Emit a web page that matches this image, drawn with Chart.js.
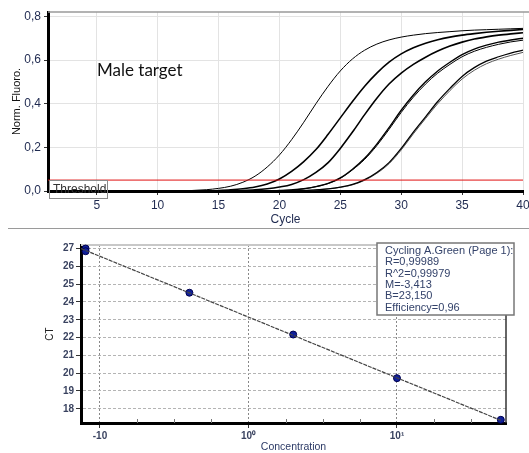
<!DOCTYPE html>
<html>
<head>
<meta charset="utf-8">
<script src="https://cdn.jsdelivr.net/npm/chart.js@4.4.1/dist/chart.umd.min.js"></script>
<style>
  body { margin: 0; background: #fff; }
  #wrap { position: relative; width: 529px; height: 453px; overflow: hidden; }
  #amp { position: absolute; left: 0; top: 0; }
  #sep { position: absolute; left: 8px; top: 228px; width: 521px; height: 1px; background: #9a9a9a; }
  #std { position: absolute; left: 0; top: 230px; }
</style>
</head>
<body>
<div id="wrap">
  <canvas id="amp" width="529" height="228"></canvas>
  <div id="sep"></div>
  <canvas id="std" width="529" height="223"></canvas>
</div>
<script>
// amplification plot
const cycles = [1, 2, 3, 4, 5, 6, 7, 8, 9, 10, 11, 12, 13, 14, 15, 16, 17, 18, 19, 20,
  21, 22, 23, 24, 25, 26, 27, 28, 29, 30, 31, 32, 33, 34, 35, 36, 37, 38, 39, 40];
const cycleTicks = [5, 10, 15, 20, 25, 30, 35, 40];
const fluoroTicks = [0, 0.2, 0.4, 0.6, 0.8];
const fluoroLabels = ['0,0', '0,2', '0,4', '0,6', '0,8'];
const thresholdValue = 0.05;

const dil1 = [0, 0, 0, 0, 0, 0, 0, 0, 0, 0, 0, 0,
  0.003, 0.006, 0.012, 0.022, 0.04, 0.068, 0.11, 0.165, 0.235, 0.315, 0.40, 0.48, 0.55, 0.605,
  0.645, 0.673, 0.692, 0.705, 0.714, 0.721, 0.726, 0.73, 0.734, 0.737, 0.739, 0.741, 0.743, 0.745];
const dil2 = [0, 0, 0, 0, 0, 0, 0, 0, 0, 0, 0, 0, 0, 0,
  0.002, 0.005, 0.01, 0.018, 0.032, 0.055, 0.09, 0.135, 0.19, 0.26, 0.335, 0.41, 0.48,
  0.54, 0.59, 0.628, 0.656, 0.677, 0.693, 0.705, 0.714, 0.721, 0.727, 0.732, 0.736, 0.74];
const dil3 = [0, 0, 0, 0, 0, 0, 0, 0, 0, 0, 0, 0, 0, 0, 0, 0,
  0.002, 0.005, 0.01, 0.018, 0.03, 0.052, 0.085, 0.13, 0.195, 0.27, 0.35, 0.425,
  0.49, 0.54, 0.58, 0.613, 0.641, 0.664, 0.682, 0.696, 0.706, 0.714, 0.72, 0.725];
const dil4 = [0, 0, 0, 0, 0, 0, 0, 0, 0, 0, 0, 0, 0, 0, 0, 0, 0, 0, 0,
  0.002, 0.005, 0.01, 0.02, 0.035, 0.06, 0.10, 0.15, 0.215, 0.29, 0.37,
  0.44, 0.50, 0.55, 0.59, 0.625, 0.65, 0.668, 0.682, 0.692, 0.70];
const dil4b = [0, 0, 0, 0, 0, 0, 0, 0, 0, 0, 0, 0, 0, 0, 0, 0, 0, 0, 0,
  0.002, 0.005, 0.01, 0.02, 0.034, 0.058, 0.097, 0.145, 0.208, 0.282, 0.36,
  0.43, 0.49, 0.54, 0.58, 0.615, 0.64, 0.658, 0.672, 0.683, 0.691];
const dil5 = [0, 0, 0, 0, 0, 0, 0, 0, 0, 0, 0, 0, 0, 0, 0, 0, 0, 0, 0, 0, 0,
  0.002, 0.005, 0.01, 0.018, 0.03, 0.052, 0.085, 0.13, 0.195, 0.27,
  0.34, 0.41, 0.47, 0.525, 0.565, 0.595, 0.615, 0.632, 0.645];
const dil5b = [0, 0, 0, 0, 0, 0, 0, 0, 0, 0, 0, 0, 0, 0, 0, 0, 0, 0, 0, 0, 0,
  0.002, 0.005, 0.01, 0.017, 0.028, 0.049, 0.081, 0.125, 0.188, 0.262,
  0.332, 0.40, 0.46, 0.513, 0.553, 0.583, 0.604, 0.621, 0.635];

// standard curve
const concentrations = [0.08, 0.08, 0.4, 2, 10, 50];
const ctValues = [27.0, 26.85, 24.52, 22.17, 19.72, 17.38];
const fitConc = [0.0745, 50];
const fitCt = [27.0, 17.35];
const concTicks = [0.1, 1, 10];
const concMinorTicks = [0.178, 0.316, 0.562, 1.78, 3.16, 5.62, 17.8, 31.6];
const concLabels = ['-10', '10\u2070', '10\u00b9'];
const ctTicks = [18, 19, 20, 21, 22, 23, 24, 25, 26, 27];
const statLines = ['Cycling A.Green (Page 1):', 'R=0,99989', 'R^2=0,99979',
  'M=-3,413', 'B=23,150', 'Efficiency=0,96'];

const navy = '#1f2a50';
const sans = 'Liberation Sans, Arial, sans-serif';

function curve(values, width, color) {
  return {
    data: cycles.map((c, i) => ({ x: c, y: values[i] })),
    borderColor: color || '#000',
    borderWidth: width,
    pointRadius: 0,
    cubicInterpolationMode: 'monotone',
    fill: false
  };
}

const ampDecor = {
  id: 'ampDecor',
  beforeDatasetsDraw(chart) {
    const { ctx, chartArea } = chart;
    ctx.save();
    ctx.strokeStyle = '#9a9a9a';
    ctx.lineWidth = 1.5;
    ctx.beginPath();
    ctx.moveTo(chartArea.left, chartArea.top);
    ctx.lineTo(chart.width, chartArea.top);
    ctx.stroke();
    ctx.restore();
  },
  afterDraw(chart) {
    const { ctx } = chart;
    ctx.save();
    ctx.fillStyle = '#111';
    ctx.font = '17px Lato, sans-serif';
    ctx.textBaseline = 'alphabetic';
    ctx.fillText('Male target', 97, 76);
    ctx.strokeStyle = '#8a8a8a';
    ctx.lineWidth = 1;
    ctx.strokeRect(49.5, 180.5, 58, 18);
    ctx.fillStyle = '#333';
    ctx.font = '12px ' + sans;
    ctx.textBaseline = 'middle';
    ctx.fillText('Threshold', 53, 189.5);
    ctx.restore();
  }
};

new Chart(document.getElementById('amp'), {
  type: 'line',
  data: {
    datasets: [
      {
        data: [{ x: 1, y: thresholdValue }, { x: 40, y: thresholdValue }],
        borderColor: '#e01010', borderWidth: 1, pointRadius: 0
      },
      curve(dil1, 1),
      curve(dil2, 1.6),
      curve(dil3, 1.6),
      curve(dil4, 1.4),
      curve(dil4b, 1),
      curve(dil5, 1.3),
      curve(dil5b, 1, '#555')
    ]
  },
  options: {
    responsive: false,
    animation: false,
    layout: { padding: { top: 12, right: 6, left: 0, bottom: 0 } },
    plugins: { legend: { display: false }, tooltip: { enabled: false } },
    scales: {
      x: {
        type: 'linear', min: 1, max: 40,
        afterBuildTicks: s => { s.ticks = cycleTicks.map(v => ({ value: v })); },
        afterFit: s => { s.height = 37; s.paddingLeft = 0; s.paddingRight = 0; },
        grid: { color: '#e3e3e3', tickColor: '#333', tickLength: 4 },
        border: { color: '#000', width: 3 },
        ticks: { color: navy, font: { family: sans, size: 12 }, padding: 3, maxRotation: 0, autoSkip: false },
        title: { display: true, text: 'Cycle', color: navy, font: { family: sans, size: 12 }, padding: { top: 0, bottom: 1 } }
      },
      y: {
        min: 0, max: 0.82,
        afterBuildTicks: s => { s.ticks = fluoroTicks.map(v => ({ value: v })); },
        afterFit: s => { s.width = 48; },
        grid: { color: '#e3e3e3', tickColor: '#333', tickLength: 4 },
        border: { color: '#000', width: 3 },
        ticks: {
          color: navy, font: { family: sans, size: 12 }, padding: 3,
          callback: (v, i) => fluoroLabels[i]
        },
        title: { display: true, text: 'Norm. Fluoro.', color: '#111', font: { family: sans, size: 11 }, padding: { top: 10 } }
      }
    }
  },
  plugins: [ampDecor]
});

const stdDecor = {
  id: 'stdDecor',
  beforeDatasetsDraw(chart) {
    const { ctx, chartArea, scales } = chart;
    ctx.save();
    ctx.strokeStyle = '#c8c8c8';
    ctx.lineWidth = 2;
    ctx.beginPath();
    ctx.moveTo(chartArea.left, chartArea.top);
    ctx.lineTo(chartArea.right, chartArea.top);
    ctx.stroke();
    ctx.strokeStyle = '#333';
    ctx.lineWidth = 1.5;
    ctx.beginPath();
    ctx.moveTo(chartArea.right, chartArea.top);
    ctx.lineTo(chartArea.right, chartArea.bottom);
    ctx.stroke();
    // small minor marks on the concentration axis
    ctx.strokeStyle = '#777';
    ctx.lineWidth = 1;
    ctx.beginPath();
    concMinorTicks.forEach(v => {
      const px = Math.round(scales.x.getPixelForValue(v)) + 0.5;
      ctx.moveTo(px, chartArea.bottom - 4);
      ctx.lineTo(px, chartArea.bottom);
    });
    ctx.stroke();
    ctx.restore();
  },
  afterDraw(chart) {
    const { ctx } = chart;
    ctx.save();
    ctx.fillStyle = '#fff';
    ctx.fillRect(377, 13, 137, 72);
    ctx.strokeStyle = '#777';
    ctx.lineWidth = 1.5;
    ctx.strokeRect(377, 13, 137, 72);
    ctx.fillStyle = '#33426a';
    ctx.font = '11px ' + sans;
    ctx.textBaseline = 'middle';
    statLines.forEach((t, i) => ctx.fillText(t, 385, 21 + i * 11.3));
    ctx.restore();
  }
};

new Chart(document.getElementById('std'), {
  type: 'scatter',
  data: {
    datasets: [
      {
        type: 'line',
        data: fitConc.map((c, i) => ({ x: c, y: fitCt[i] })),
        borderColor: '#444', borderWidth: 1.2, borderDash: [4, 1], pointRadius: 0
      },
      {
        data: concentrations.map((c, i) => ({ x: c, y: ctValues[i] })),
        backgroundColor: '#10209a', borderColor: '#000050', borderWidth: 1,
        pointRadius: 3.5, clip: false
      }
    ]
  },
  options: {
    responsive: false,
    animation: false,
    layout: { padding: { top: 15, right: 23, left: 0, bottom: 0 } },
    plugins: { legend: { display: false }, tooltip: { enabled: false } },
    scales: {
      x: {
        type: 'logarithmic', min: 0.0745, max: 54.2,
        afterBuildTicks: s => { s.ticks = concTicks.map(v => ({ value: v })); },
        afterFit: s => { s.height = 30; s.paddingLeft = 0; s.paddingRight = 0; },
        grid: { color: '#888', tickColor: '#333', tickLength: 5 },
        border: { color: '#000', width: 3, dash: [2, 2] },
        ticks: {
          color: '#3a4360', font: { family: sans, size: 10, weight: 'bold' }, padding: 2,
          maxRotation: 0, autoSkip: false, callback: (v, i) => concLabels[i]
        },
        title: { display: true, text: 'Concentration', color: '#2c3a66', font: { family: sans, size: 10.5 }, padding: { top: 0, bottom: 0 } }
      },
      y: {
        min: 17.2, max: 27.2,
        afterBuildTicks: s => { s.ticks = ctTicks.map(v => ({ value: v })); },
        afterFit: s => { s.width = 81; },
        grid: { color: '#b4b4b4', tickColor: '#333', tickLength: 5 },
        border: { color: '#000', width: 3, dash: [3, 2] },
        ticks: { color: '#3a4360', font: { family: sans, size: 10, weight: 'bold' }, padding: 2 },
        title: { display: true, text: 'CT', color: '#222', font: { family: sans, size: 10 }, padding: { top: 44 } }
      }
    }
  },
  plugins: [stdDecor]
});
</script>
</body>
</html>
